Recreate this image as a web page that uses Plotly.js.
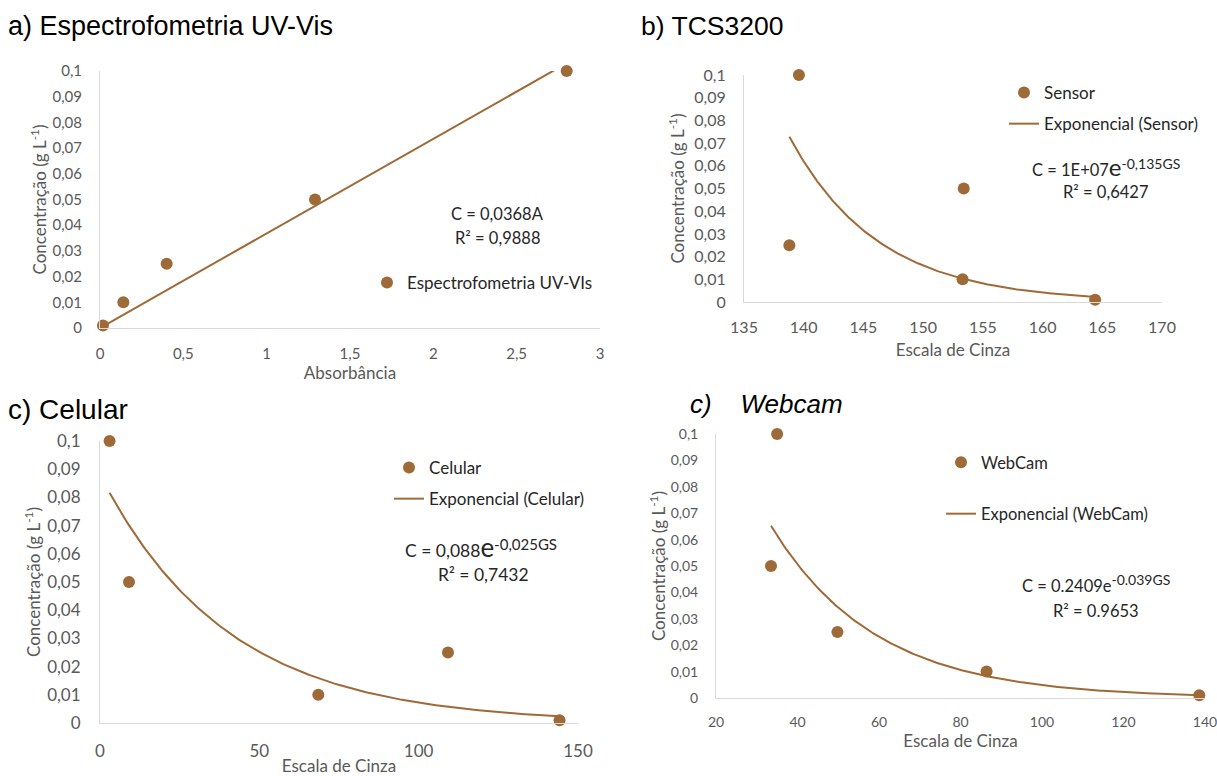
<!DOCTYPE html>
<html>
<head>
<meta charset="utf-8">
<script src="https://cdn.plot.ly/plotly-3.0.1.min.js"></script>
<style>html,body{margin:0;padding:0;background:#fff;}#chart{width:1217px;height:776px;}</style>
</head>
<body>
<div id="chart"></div>
<script>
// ---- data ----
const uvAbs = [0.018, 0.14, 0.40, 1.29, 2.80];
const uvConc = [0.001, 0.01, 0.025, 0.05, 0.1];
const uvSlope = 0.0368;

const tcsGray = [139.6, 138.8, 153.4, 153.3, 164.4];
const tcsConc = [0.1, 0.025, 0.05, 0.01, 0.001];
const tcsA = 1e7, tcsK = -0.135;

const celGray = [3.0, 9.1, 68.5, 109.2, 144.2];
const celConc = [0.1, 0.05, 0.01, 0.025, 0.001];
const celA = 0.088, celK = -0.025;

const camGray = [35.0, 33.5, 49.8, 86.4, 138.6];
const camConc = [0.1, 0.05, 0.025, 0.01, 0.001];
const camA = 0.2409, camK = -0.039;

// ---- styling ----
const BROWN = '#9E6A38';
const W = 1217, H = 776;
const BODY = 'Lato, "Open Sans", sans-serif';
const HEAD = '"Liberation Sans", Arial, sans-serif';
const px = v => v / W;
const py = v => 1 - v / H;

function curve(xs, f) {
  const lo = Math.min(...xs), hi = Math.max(...xs);
  const X = [], Y = [];
  for (let i = 0; i <= 200; i++) { const x = lo + (hi - lo) * i / 200; X.push(x); Y.push(f(x)); }
  return {X, Y};
}
const uvFit = curve(uvAbs, x => uvSlope * x);
const tcsFit = curve(tcsGray, x => tcsA * Math.exp(tcsK * x));
const celFit = curve(celGray, x => celA * Math.exp(celK * x));
const camFit = curve(camGray, x => camA * Math.exp(camK * x));

function pts(x, y, n, name, legend, showlegend) {
  return {x, y, xaxis: 'x' + n, yaxis: 'y' + n, type: 'scatter', mode: 'markers', name,
    marker: {color: BROWN, size: 12}, cliponaxis: false, legend, legendgroup: 'p' + n, showlegend};
}
function fit(f, n, name, legend, showlegend) {
  return {x: f.X, y: f.Y, xaxis: 'x' + n, yaxis: 'y' + n, type: 'scatter', mode: 'lines', name,
    line: {color: BROWN, width: 2}, legend, legendgroup: 'f' + n, showlegend, hoverinfo: 'skip'};
}

const data = [
  pts(uvAbs, uvConc, '', 'Espectrofometria UV-VIs', 'legend', true),
  fit(uvFit, '', 'Linear', 'legend', false),
  pts(tcsGray, tcsConc, 2, 'Sensor', 'legend2', true),
  fit(tcsFit, 2, 'Exponencial (Sensor)', 'legend2', true),
  pts(celGray, celConc, 3, 'Celular', 'legend3', true),
  fit(celFit, 3, 'Exponencial (Celular)', 'legend3', true),
  pts(camGray, camConc, 4, 'WebCam', 'legend4', true),
  fit(camFit, 4, 'Exponencial (WebCam)', 'legend4', true)
];

function xax(range, dtick, x0, x1, anchor, fs, title, tfs, tstand, lstand) {
  return {range, dtick, tick0: 0, domain: [px(x0), px(x1)], anchor, showgrid: false, zeroline: false,
    showline: true, linecolor: '#D9D9D9', linewidth: 1, ticks: '', fixedrange: true,
    ticklabelstandoff: lstand, ticklabeloverflow: 'allow',
    tickfont: {family: BODY, size: fs, color: '#595959'},
    title: {text: title, font: {family: BODY, size: tfs, color: '#595959'}, standoff: tstand}};
}
function yax(y0, y1, anchor, fs, tfs, tstand, lstand) {
  return {range: [0, 0.1], dtick: 0.01, tick0: 0, domain: [py(y1), py(y0)], anchor, showgrid: false,
    zeroline: false, showline: true, linecolor: '#D9D9D9', linewidth: 1, ticks: '', fixedrange: true,
    ticklabelstandoff: lstand, ticklabeloverflow: 'allow',
    tickfont: {family: BODY, size: fs, color: '#595959'},
    title: {text: 'Concentração (g L<sup>-1</sup>)', font: {family: BODY, size: tfs, color: '#595959'}, standoff: tstand}};
}

function leg(x, y, fs, gap) {
  return {x: px(x), y: py(y), xanchor: 'left', yanchor: 'top', bgcolor: 'rgba(0,0,0,0)',
    font: {family: BODY, size: fs, color: '#262626'}, tracegroupgap: gap, traceorder: 'grouped', itemwidth: 30};
}

function note(text, x, y, fs) {
  return {text, x: px(x), y: py(y), xref: 'paper', yref: 'paper', showarrow: false,
    xanchor: 'center', yanchor: 'middle', font: {family: BODY, size: fs, color: '#262626'}};
}
function head(text, x, y, fs, italic) {
  return {text: italic ? '<i>' + text + '</i>' : text, x: px(x), y: py(y), xref: 'paper', yref: 'paper',
    showarrow: false, xanchor: 'left', yanchor: 'middle', font: {family: HEAD, size: fs, color: '#000'}};
}
const sup = (t, s) => '<sup><span style="font-size:' + s + 'px">' + t + '</span></sup>';
const bigE = s => '<span style="font-size:' + s + 'px">e</span>';

const layout = {
  width: W, height: H, margin: {l: 0, r: 0, t: 0, b: 0}, paper_bgcolor: '#fff', plot_bgcolor: '#fff',
  separators: ', ', hovermode: false,
  xaxis: xax([0, 3], 0.5, 100, 600, 'y', 15, 'Absorbância', 17, 5, 12),
  yaxis: yax(71, 328, 'x', 15, 17, 1, 14),
  xaxis2: xax([135, 170], 5, 744, 1162, 'y2', 16, 'Escala de Cinza', 17, 8, 11),
  yaxis2: yax(75, 302, 'x2', 16, 17, 5, 14),
  xaxis3: xax([0, 150], 50, 100, 578, 'y3', 17, 'Escala de Cinza', 17, 2, 13),
  yaxis3: yax(441, 723, 'x3', 17, 17, 2, 15),
  xaxis4: xax([20, 140], 20, 716, 1205, 'y4', 14, 'Escala de Cinza', 17, 4, 11),
  yaxis4: yax(434, 698, 'x4', 14, 17, 0, 14),
  legend: leg(367, 265, 17, 0),
  legend2: leg(1004, 75, 17, 6),
  legend3: leg(389, 450, 17, 6),
  legend4: leg(941, 445, 16.5, 27),
  annotations: [
    head('a) Espectrofometria UV-Vis', 6, 26, 27),
    head('b) TCS3200', 639, 26, 26.5),
    head('c) Celular', 6, 409, 28),
    head('c)&nbsp;&nbsp;&nbsp;&nbsp;Webcam', 688, 404, 26, true),
    note('C = 0,0368A', 497, 214, 16.5),
    note('R² = 0,9888', 497, 238, 16.5),
    note('C = 1E+07' + bigE(24) + sup('-0,135GS', 14), 1106, 166, 16.5),
    note('R² = 0,6427', 1105, 192, 16.5),
    note('C = 0,088' + bigE(26) + sup('-0,025GS', 15), 481, 547, 17.5),
    note('R² = 0,7432', 483, 574, 17.5),
    note('C = 0.2409e' + sup('-0.039GS', 14), 1096, 583, 16.5),
    note('R² = 0.9653', 1096, 611, 16.5)
  ]
};

Plotly.newPlot('chart', data, layout, {displayModeBar: false, staticPlot: true});
</script>
</body>
</html>
